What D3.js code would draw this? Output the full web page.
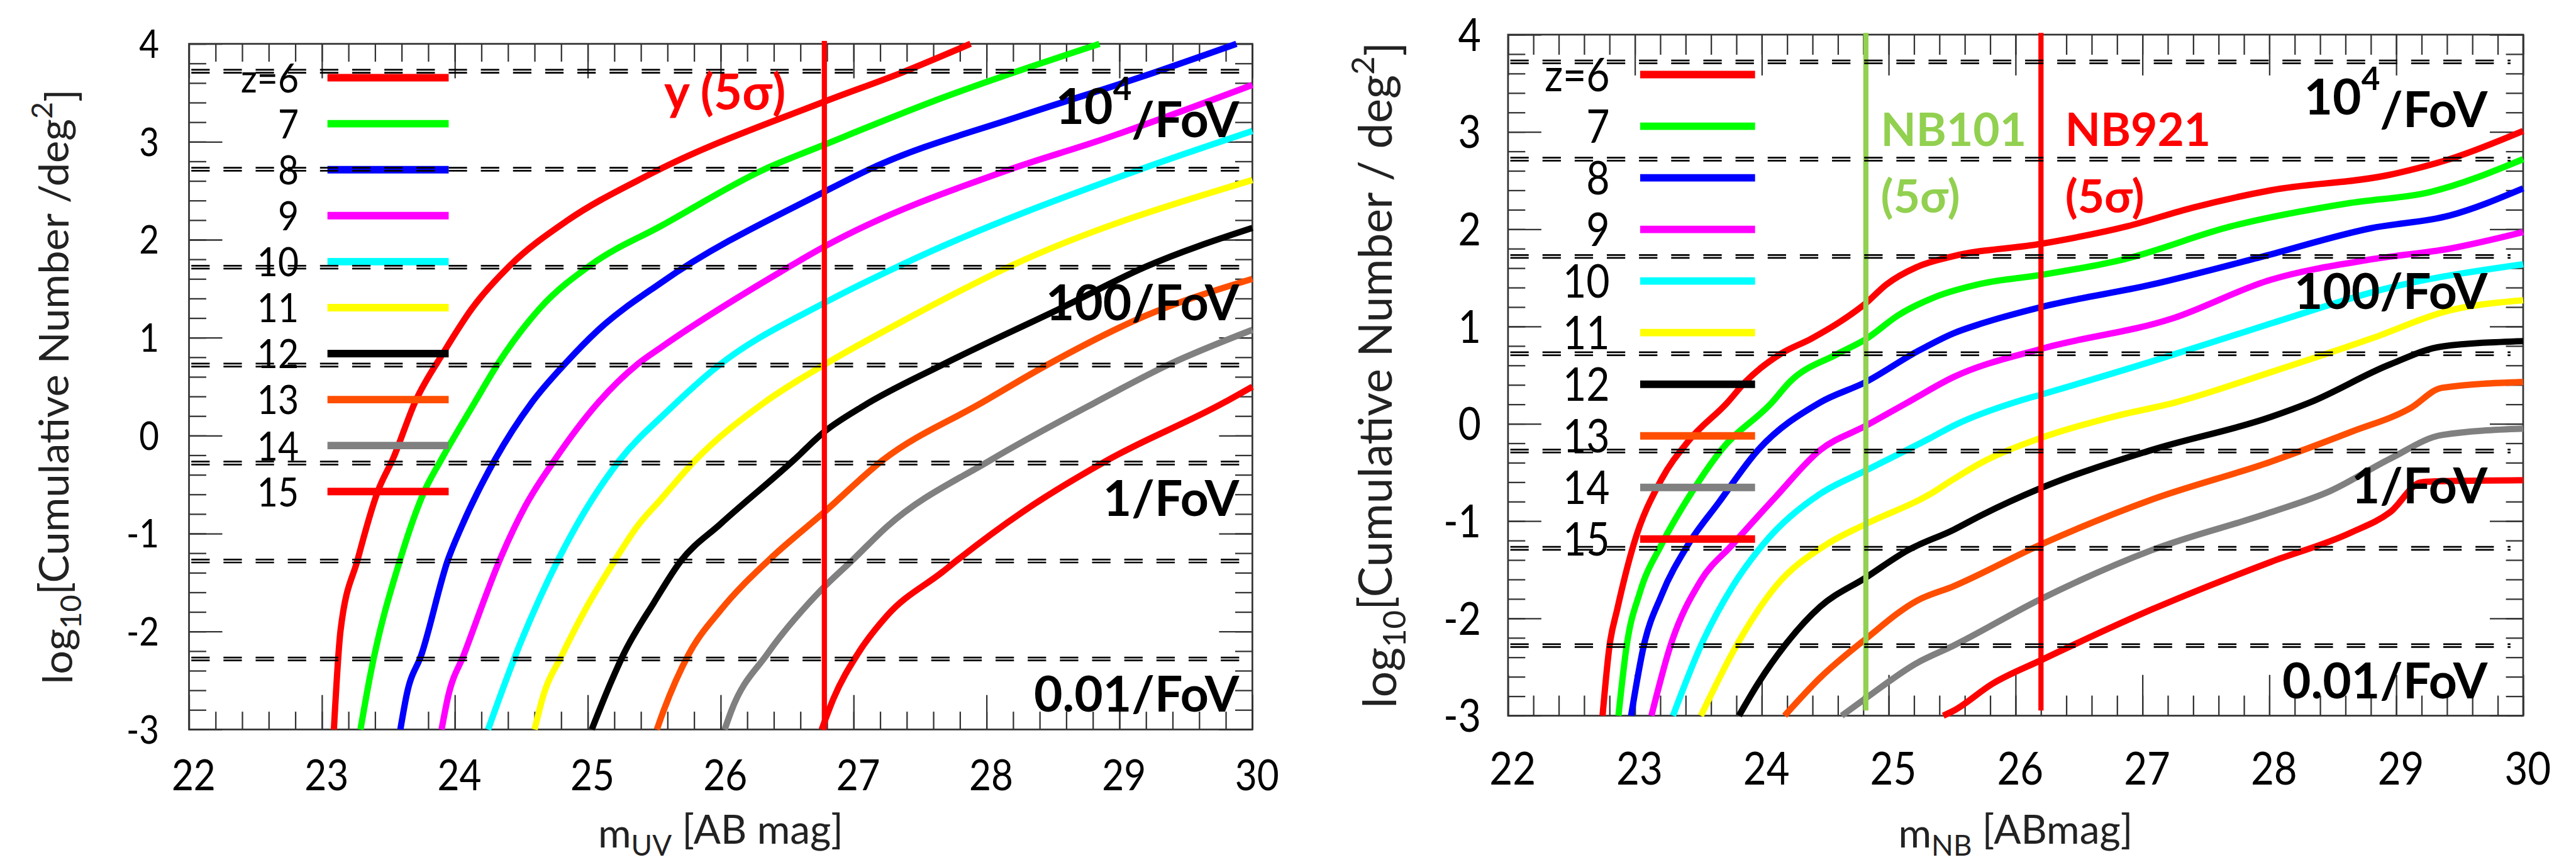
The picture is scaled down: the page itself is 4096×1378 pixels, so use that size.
<!DOCTYPE html>
<html>
<head>
<meta charset="utf-8">
<script src="https://cdn.jsdelivr.net/npm/d3@7"></script>
<style>
body { margin: 0; background: #fff; }
text { font-family: Lato, "DejaVu Sans", sans-serif; }
</style>
</head>
<body>
<div id="chart"></div>
<script>
// redshifts and their colours
var zs = [6, 7, 8, 9, 10, 11, 12, 13, 14, 15];
var zColors = ["#ff0000", "#00ff00", "#0000ff", "#ff00ff", "#00ffff", "#ffff00", "#000000", "#ff4e00", "#808080", "#ff0000"];

var xTicks = [22, 23, 24, 25, 26, 27, 28, 29, 30];
var yTicks = [-3, -2, -1, 0, 1, 2, 3, 4];

// FoV reference lines (pairs of dashed lines below each decade)
var fovDecades = [4, 3, 2, 1, 0, -1, -2];
var fovOffsets = [-0.265, -0.295];
var fovLabelDecades = [4, 2, 0, -2];
var fovLabels = [["10", "4", "/FoV"], ["100", "", "/FoV"], ["1", "", "/FoV"], ["0.01", "", "/FoV"]];

// 5 sigma limits
var yLimit = 26.78;
var nb101Limit = 24.82;
var nb921Limit = 26.20;

// left panel: cumulative number vs m_UV  [m, log10 N]
var uv6 = [[23.09,-3],[23.14,-1.99],[23.27,-1.26],[23.42,-0.57],[23.54,-0.22],[23.70,0.34],[23.92,0.86],[24.13,1.30],[24.41,1.73],[24.84,2.19],[25.44,2.65],[26.78,3.41],[27.37,3.71],[27.88,4.0]];
var uv7 = [[23.29,-3],[23.36,-2.47],[23.59,-1.26],[23.77,-0.57],[23.90,-0.24],[24.15,0.34],[24.32,0.725],[24.64,1.30],[25.03,1.75],[25.55,2.14],[26.33,2.72],[26.78,2.97],[27.67,3.45],[28.85,4.0]];
var uv8 = [[23.59,-3],[23.64,-2.63],[23.75,-2.23],[23.95,-1.26],[24.05,-0.93],[24.30,-0.25],[24.58,0.34],[24.84,0.75],[25.08,1.08],[25.55,1.56],[26.78,2.49],[27.12,2.72],[28.27,3.27],[29.16,3.66],[29.88,4.0]];
var uv9 = [[23.90,-3],[23.95,-2.66],[24.07,-2.23],[24.35,-1.23],[24.53,-0.72],[24.75,-0.25],[25.08,0.34],[25.37,0.725],[25.55,0.90],[26.46,1.68],[26.78,1.93],[28.18,2.72],[28.82,3.0],[30,3.58]];
var uv10 = [[24.25,-3],[24.46,-2.23],[24.78,-1.26],[25.24,-0.25],[25.60,0.25],[25.97,0.70],[26.78,1.355],[27.37,1.75],[29.16,2.72],[30,3.11]];
var uv11 = [[24.60,-3],[24.66,-2.68],[24.81,-2.23],[24.98,-1.78],[25.21,-1.26],[25.37,-0.93],[25.55,-0.65],[25.81,-0.25],[26.33,0.34],[26.78,0.725],[27.37,1.17],[28.21,1.75],[30,2.61]];
var uv12 = [[25.03,-3],[25.18,-2.50],[25.27,-2.23],[25.50,-1.70],[25.70,-1.28],[26.00,-0.90],[26.55,-0.25],[26.78,0.04],[27.07,0.30],[27.67,0.725],[28.58,1.315],[29.19,1.72],[30,2.12]];
var uv13 = [[25.52,-3],[25.57,-2.81],[25.76,-2.23],[26.00,-1.78],[26.37,-1.26],[26.78,-0.78],[27.22,-0.25],[27.97,0.34],[28.46,0.725],[29.19,1.22],[30,1.60]];
var uv14 = [[26.03,-3],[26.08,-2.81],[26.35,-2.23],[26.76,-1.57],[27.00,-1.26],[27.25,-0.93],[28.03,-0.25],[28.82,0.34],[29.37,0.725],[30,1.08]];
var uv15 = [[26.76,-3],[26.85,-2.68],[27.03,-2.23],[27.25,-1.84],[27.67,-1.39],[27.79,-1.26],[28.27,-0.78],[28.91,-0.25],[29.79,0.34],[30,0.50]];

// right panel: cumulative number vs m_NB  [m, log10 N]
var nb6 = [[22.745,-3],[22.80,-2.28],[22.86,-1.91],[22.99,-1.24],[23.21,-0.57],[23.42,-0.18],[23.73,0.22],[23.87,0.43],[24.15,0.72],[24.39,0.875],[24.63,1.06],[24.82,1.24],[24.98,1.43],[25.22,1.61],[25.50,1.72],[26.20,1.85],[26.88,2.03],[27.39,2.22],[28.01,2.40],[28.95,2.56],[29.42,2.72],[30,3.01]];
var nb7 = [[22.87,-3],[22.935,-2.28],[23.04,-1.73],[23.21,-1.24],[23.455,-0.69],[23.68,-0.27],[24.08,0.22],[24.22,0.43],[24.60,0.72],[24.82,0.87],[25.08,1.12],[25.36,1.30],[25.73,1.44],[26.20,1.53],[26.85,1.69],[27.70,2.03],[28.64,2.27],[29.26,2.38],[30,2.72]];
var nb8 = [[22.97,-3],[23.07,-2.28],[23.21,-1.76],[23.42,-1.24],[23.66,-0.81],[23.97,-0.27],[24.46,0.22],[24.82,0.43],[25.22,0.74],[25.51,0.93],[25.73,1.03],[26.20,1.20],[27.07,1.43],[27.95,1.72],[28.80,2.01],[29.42,2.14],[30,2.42]];
var nb9 = [[23.13,-3],[23.28,-2.28],[23.52,-1.61],[23.77,-1.24],[24.11,-0.75],[24.46,-0.27],[24.82,-0.02],[25.15,0.22],[25.51,0.48],[26.20,0.77],[27.23,1.08],[28.01,1.48],[28.80,1.69],[29.42,1.80],[30,1.97]];
var nb10 = [[23.30,-3],[23.52,-2.28],[23.77,-1.67],[24.01,-1.24],[24.46,-0.72],[24.82,-0.48],[25.33,-0.145],[25.51,-0.02],[26.04,0.24],[26.20,0.30],[27.07,0.64],[28.01,1.03],[28.95,1.40],[30,1.64]];
var nb11 = [[23.52,-3],[23.80,-2.28],[24.11,-1.67],[24.51,-1.24],[24.82,-1.03],[25.33,-0.72],[25.51,-0.57],[25.73,-0.40],[26.20,-0.145],[26.76,0.07],[27.26,0.22],[28.01,0.53],[28.80,0.875],[29.42,1.165],[30,1.27]];
var nb12 = [[23.82,-3],[23.97,-2.67],[24.18,-2.28],[24.46,-1.88],[24.82,-1.58],[25.15,-1.30],[25.51,-1.09],[25.73,-0.94],[26.20,-0.66],[27.07,-0.27],[28.01,0.07],[28.32,0.22],[28.95,0.61],[29.36,0.795],[30,0.85]];
var nb13 = [[24.18,-3],[24.46,-2.61],[24.82,-2.21],[25.22,-1.82],[25.51,-1.67],[26.20,-1.24],[27.07,-0.78],[28.01,-0.39],[28.64,-0.085],[29.11,0.16],[29.36,0.37],[30,0.43]];
var nb14 = [[24.63,-3],[24.82,-2.82],[25.22,-2.46],[25.51,-2.28],[26.20,-1.80],[27.07,-1.30],[28.01,-0.91],[28.48,-0.69],[28.95,-0.36],[29.36,-0.115],[30,-0.05]];
var nb15 = [[25.43,-3],[25.51,-2.95],[25.82,-2.67],[26.20,-2.43],[27.07,-1.91],[28.01,-1.42],[28.64,-1.12],[28.95,-0.91],[29.20,-0.60],[29.36,-0.59],[30,-0.58]];

var uvCurves = [uv6, uv7, uv8, uv9, uv10, uv11, uv12, uv13, uv14, uv15];
var nbCurves = [nb6, nb7, nb8, nb9, nb10, nb11, nb12, nb13, nb14, nb15];

var W = 4484, H = 1508;
var svg = d3.select("#chart").append("svg")
    .attr("width", 4096)
    .attr("height", 1378)
    .attr("viewBox", "0 0 " + W + " " + H);

var panels = [
    {left: 329, right: 2180, top: 76, bottom: 1269, curves: uvCurves,
     xMajor: 60, xMinor: 31, yTitleX: 126, yTitleSize: 73, yTitle: "[Cumulative Number /deg",
     xTitleMain: "m", xTitleSub: "UV", xTitleRest: " [AB mag]",
     xLabY: 1375, xLabSize: 75, yLabX: 277, yLabSize: 68,
     legLabX: 520, legX0: 570, legX1: 781, legY0: 135, legDy: 80, legSize: 71,
     fovRight: 23, lineTop: 71, lineBottom: 1269},
    {left: 2625, right: 4392, top: 60, bottom: 1245, curves: nbCurves,
     xMajor: 71, xMinor: 35, yTitleX: 2430, yTitleSize: 80, yTitle: "[Cumulative Number / deg",
     xTitleMain: "m", xTitleSub: "NB", xTitleRest: " [ABmag]",
     xLabY: 1365, xLabSize: 79, yLabX: 2578, yLabSize: 78,
     legLabX: 2802, legX0: 2855, legX1: 3055, legY0: 129.5, legDy: 89.8, legSize: 80,
     fovRight: 62, lineTop: 57, lineBottom: 1236}
];

var minorX = d3.range(22, 30.001, 0.2);
var minorY = d3.range(-3, 4.001, 0.2);

function tickGroup(g, axis, tx, ty) {
    g.append("g")
        .attr("transform", "translate(" + tx + "," + ty + ")")
        .attr("color", "#333")
        .call(axis)
        .call(function(s) { s.select(".domain").remove(); })
        .selectAll("line").attr("stroke-width", 2.5);
}

panels.forEach(function(p, pi) {
    var g = svg.append("g");
    var x = d3.scaleLinear().domain([22, 30]).range([p.left, p.right]);
    var y = d3.scaleLinear().domain([-3, 4]).range([p.bottom, p.top]);
    var h = p.bottom - p.top, w = p.right - p.left;

    // inward ticks on all four sides
    [[minorX, p.xMinor], [xTicks, p.xMajor]].forEach(function(t) {
        tickGroup(g, d3.axisTop(d3.scaleLinear().domain([22, 30]).range([0, w])).tickValues(t[0]).tickSize(t[1]).tickSizeOuter(0).tickFormat(""), p.left, p.bottom);
        tickGroup(g, d3.axisBottom(d3.scaleLinear().domain([22, 30]).range([0, w])).tickValues(t[0]).tickSize(t[1]).tickSizeOuter(0).tickFormat(""), p.left, p.top);
    });
    [[minorY, 30], [yTicks, 58]].forEach(function(t) {
        tickGroup(g, d3.axisRight(d3.scaleLinear().domain([-3, 4]).range([h, 0])).tickValues(t[0]).tickSize(t[1]).tickSizeOuter(0).tickFormat(""), p.left, p.top);
        tickGroup(g, d3.axisLeft(d3.scaleLinear().domain([-3, 4]).range([h, 0])).tickValues(t[0]).tickSize(t[1]).tickSizeOuter(0).tickFormat(""), p.right, p.top);
    });

    g.append("rect")
        .attr("x", p.left).attr("y", p.top)
        .attr("width", w).attr("height", h)
        .attr("fill", "none").attr("stroke", "#333").attr("stroke-width", 3);

    // tick labels
    xTicks.forEach(function(v) {
        g.append("text")
            .attr("transform", "translate(" + (x(v) + 8) + "," + p.xLabY + ") scale(0.88,1)")
            .attr("text-anchor", "middle")
            .attr("font-size", p.xLabSize)
            .attr("fill", "#000")
            .text(v);
    });
    yTicks.forEach(function(v) {
        g.append("text")
            .attr("transform", "translate(" + p.yLabX + "," + y(v) + ") scale(0.88,1)")
            .attr("text-anchor", "end")
            .attr("dy", "0.36em")
            .attr("font-size", p.yLabSize)
            .attr("fill", "#000")
            .text(v);
    });

    // axis titles
    var yt = g.append("text")
        .attr("transform", "translate(" + p.yTitleX + "," + (p.top + h / 2) + ") rotate(-90)")
        .attr("text-anchor", "middle")
        .attr("font-size", p.yTitleSize)
        .attr("fill", "#222");
    yt.append("tspan").text("log");
    yt.append("tspan").attr("font-size", p.yTitleSize * 0.7).attr("dy", "0.3em").text("10");
    yt.append("tspan").attr("dy", "-0.3em").text(p.yTitle);
    yt.append("tspan").attr("font-size", p.yTitleSize * 0.7).attr("dy", "-0.55em").text("2");
    yt.append("tspan").attr("dy", "0.55em").text("]");

    var xt = g.append("text")
        .attr("x", p.left + w / 2).attr("y", 1474)
        .attr("text-anchor", "middle")
        .attr("font-size", 70)
        .attr("fill", "#222");
    xt.append("tspan").text(p.xTitleMain);
    xt.append("tspan").attr("font-size", 50).attr("dy", "0.3em").text(p.xTitleSub);
    xt.append("tspan").attr("dy", "-0.3em").text(p.xTitleRest);

    // curves
    var line = d3.line()
        .x(function(d) { return x(d[0]); })
        .y(function(d) { return y(d[1]); })
        .curve(d3.curveMonotoneX);
    p.curves.forEach(function(c, i) {
        g.append("path")
            .attr("d", line(c))
            .attr("fill", "none")
            .attr("stroke", zColors[i])
            .attr("stroke-width", 11)
            .attr("stroke-linejoin", "round");
    });

    // legend
    zs.forEach(function(z, i) {
        var ly = p.legY0 + i * p.legDy;
        g.append("line")
            .attr("x1", p.legX0).attr("x2", p.legX1)
            .attr("y1", ly).attr("y2", ly)
            .attr("stroke", zColors[i]).attr("stroke-width", 13);
        g.append("text")
            .attr("transform", "translate(" + p.legLabX + "," + ly + ") scale(0.88,1)")
            .attr("text-anchor", "end")
            .attr("dy", "0.36em")
            .attr("font-size", p.legSize)
            .attr("fill", "#000")
            .text(i === 0 ? "z=" + z : z);
    });

    // 5 sigma limit lines
    var limits = pi === 0 ? [[yLimit, "#ff0000"]] : [[nb101Limit, "#92d050"], [nb921Limit, "#ff0000"]];
    limits.forEach(function(l) {
        g.append("line")
            .attr("x1", x(l[0])).attr("x2", x(l[0]))
            .attr("y1", p.lineTop).attr("y2", p.lineBottom)
            .attr("stroke", l[1]).attr("stroke-width", 9);
    });

    // FoV dashed double lines
    fovDecades.forEach(function(d) {
        fovOffsets.forEach(function(o) {
            g.append("line")
                .attr("x1", p.left + 4).attr("x2", p.right - 22)
                .attr("y1", y(d + o)).attr("y2", y(d + o))
                .attr("stroke", "#000").attr("stroke-width", 3)
                .attr("stroke-dasharray", "32,24");
        });
    });

    // FoV labels
    fovLabelDecades.forEach(function(d, i) {
        var t = g.append("text")
            .attr("x", p.right - p.fovRight).attr("y", y(d - 0.82))
            .attr("text-anchor", "end")
            .attr("font-size", 86).attr("font-weight", "bold")
            .attr("fill", "#000");
        t.append("tspan").text(fovLabels[i][0]);
        if (fovLabels[i][1]) {
            t.append("tspan").attr("font-size", 56).attr("dy", "-0.75em").text(fovLabels[i][1]);
            t.append("tspan").attr("dy", "0.75em").attr("font-size", 86).text(fovLabels[i][2]);
        } else {
            t.append("tspan").text(fovLabels[i][2]);
        }
    });

    // limit labels
    if (pi === 0) {
        g.append("text")
            .attr("x", x(yLimit) - 279).attr("y", 190)
            .attr("font-size", 85).attr("font-weight", "bold")
            .attr("fill", "#ff0000")
            .text("y (5σ)");
    } else {
        [[nb101Limit, 26, "#92d050", "NB101"], [nb921Limit, 42, "#ff0000", "NB921"]].forEach(function(l) {
            g.append("text")
                .attr("x", x(l[0]) + l[1]).attr("y", 254)
                .attr("font-size", 80).attr("font-weight", "bold")
                .attr("fill", l[2]).text(l[3]);
            g.append("text")
                .attr("x", x(l[0]) + l[1]).attr("y", 370)
                .attr("font-size", 80).attr("font-weight", "bold")
                .attr("fill", l[2]).text("(5σ)");
        });
    }
});
</script>
</body>
</html>
